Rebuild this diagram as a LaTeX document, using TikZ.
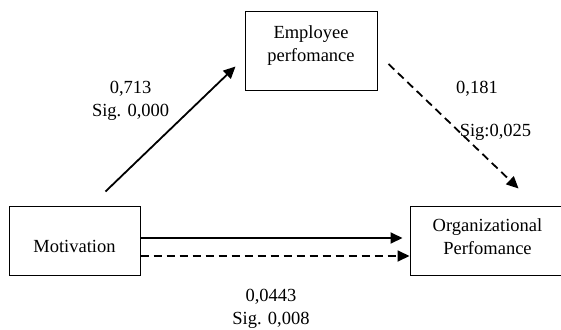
\documentclass[tikz,border=0pt]{standalone}
\usepackage{fontspec}
\setmainfont{Liberation Serif}
\usetikzlibrary{arrows.meta}

\tikzset{
  varbox/.style={draw, line width=1pt, inner sep=0pt},
  boxtext/.style={align=center, inner sep=0pt},
  pathsolid/.style={line width=1.8pt, -{Triangle[length=12pt,width=11pt]}},
  pathdashed/.style={pathsolid, dash pattern=on 8pt off 5pt},
  coef/.style={align=center, inner sep=0pt}
}

\begin{document}
\begin{tikzpicture}[x=1pt,y=-1pt, font=\fontsize{18.5}{23}\selectfont]
                \useasboundingbox (0,0) rectangle (561,329);
                % variables
                \node[varbox, minimum width=132pt, minimum height=78pt,
                  label={[boxtext, yshift=5pt]center:Employee\\perfomance}] (emp) at (311,51) {};
                \node[varbox, minimum width=131pt, minimum height=69pt,
                  label={[boxtext, yshift=-6pt]center:Motivation}] (mot) at (74.5,240.5) {};
                \node[varbox, minimum width=155pt, minimum height=69pt,
                  label={[boxtext, yshift=4pt]center:Organizational\\Perfomance}] (org) at (487.5,240.5) {};
                % paths
                \draw[pathsolid] ([shift={(31,-14)}]mot.north) -- ([shift={(-9,-24)}]emp.south west);
                \draw[pathdashed] ([shift={(11,13)}]emp.east) -- ([shift={(109,-17)}]org.north west);
                \draw[pathsolid] ([yshift=2.5pt]mot.east) -- ([yshift=2.5pt,xshift=-7pt]org.west);
                \draw[pathdashed] ([yshift=-15.5pt]mot.east) -- ([yshift=-15.5pt]org.west);
                % coefficients
                \node[coef] (c1) at (130.6,101) {0,713\\Sig. 0,000};
                \node[coef] (c2a) at (477,89) {0,181};
                \node[coef] (c2b) at (495.5,132) {Sig:0,025};
                \node[coef] (c3) at (271,309) {0,0443\\Sig. 0,008};
\end{tikzpicture}
\end{document}
